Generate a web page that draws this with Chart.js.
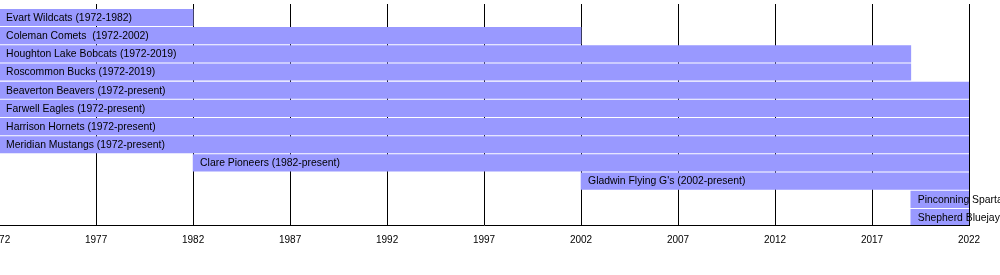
<!DOCTYPE html>
<html>
<head>
<meta charset="utf-8">
<script src="https://cdn.jsdelivr.net/npm/chart.js@4/dist/chart.umd.min.js"></script>
<style>
  html, body { margin: 0; padding: 0; overflow: hidden; background: #fff; }
  #wrap { position: relative; width: 1000px; height: 275px; overflow: hidden; }
  #box { position: absolute; left: -21px; top: 0; width: 1021px; height: 275px; }
</style>
</head>
<body>
<div id="wrap"><div id="box"><canvas id="c"></canvas></div></div>
<script>
const teams = [
  "Evart Wildcats (1972-1982)",
  "Coleman Comets  (1972-2002)",
  "Houghton Lake Bobcats (1972-2019)",
  "Roscommon Bucks (1972-2019)",
  "Beaverton Beavers (1972-present)",
  "Farwell Eagles (1972-present)",
  "Harrison Hornets (1972-present)",
  "Meridian Mustangs (1972-present)",
  "Clare Pioneers (1982-present)",
  "Gladwin Flying G's (2002-present)",
  "Pinconning Spartans (2019-present)",
  "Shepherd Bluejays (2019-present)"
];
const startYears = [1972, 1972, 1972, 1972, 1972, 1972, 1972, 1972, 1982, 2002, 2019, 2019];
const endYears   = [1982, 2002, 2019, 2019, 2022, 2022, 2022, 2022, 2022, 2022, 2022, 2022];
const axisStart = 1972;
const axisEnd = 2022;
const tickStep = 5;

const rows = teams.map((t, i) => ({ x: [startYears[i], endYears[i]], y: i }));

const barLabels = {
  id: 'barLabels',
  afterDatasetsDraw(chart) {
    const ctx = chart.ctx;
    const meta = chart.getDatasetMeta(0);
    ctx.save();
    ctx.font = '10.4px "Liberation Sans", Arial, sans-serif';
    ctx.fillStyle = '#000';
    ctx.textBaseline = 'middle';
    ctx.textAlign = 'left';
    meta.data.forEach((bar, i) => {
      const left = Math.min(bar.x, bar.base);
      ctx.fillText(teams[i], left + 7, bar.y + 0.5);
    });
    ctx.restore();
  }
};

new Chart(document.getElementById('c'), {
  type: 'bar',
  data: {
    datasets: [{
      data: rows,
      backgroundColor: '#9999ff',
      borderWidth: 0,
      barThickness: 16.5
    }]
  },
  options: {
    indexAxis: 'y',
    responsive: true,
    maintainAspectRatio: false,
    animation: false,
    events: [],
    layout: { padding: { left: 20, right: 31, top: 4, bottom: 20 } },
    plugins: { legend: { display: false }, tooltip: { enabled: false } },
    scales: {
      x: {
        type: 'linear',
        min: axisStart,
        max: axisEnd,
        offset: false,
        grid: { color: '#000', lineWidth: 1, drawTicks: false, offset: false },
        border: { color: '#000', width: 1 },
        ticks: {
          stepSize: tickStep,
          padding: 9,
          color: '#000',
          font: { family: '"Liberation Sans", Arial, sans-serif', size: 10 },
          maxRotation: 0,
          autoSkip: false,
          callback: v => String(v)
        }
      },
      y: {
        type: 'linear',
        reverse: true,
        offset: false,
        min: -0.7426,
        max: 11.413,
        display: false,
        grid: { offset: false },
        ticks: { stepSize: 1 }
      }
    }
  },
  plugins: [barLabels]
});
</script>
</body>
</html>
